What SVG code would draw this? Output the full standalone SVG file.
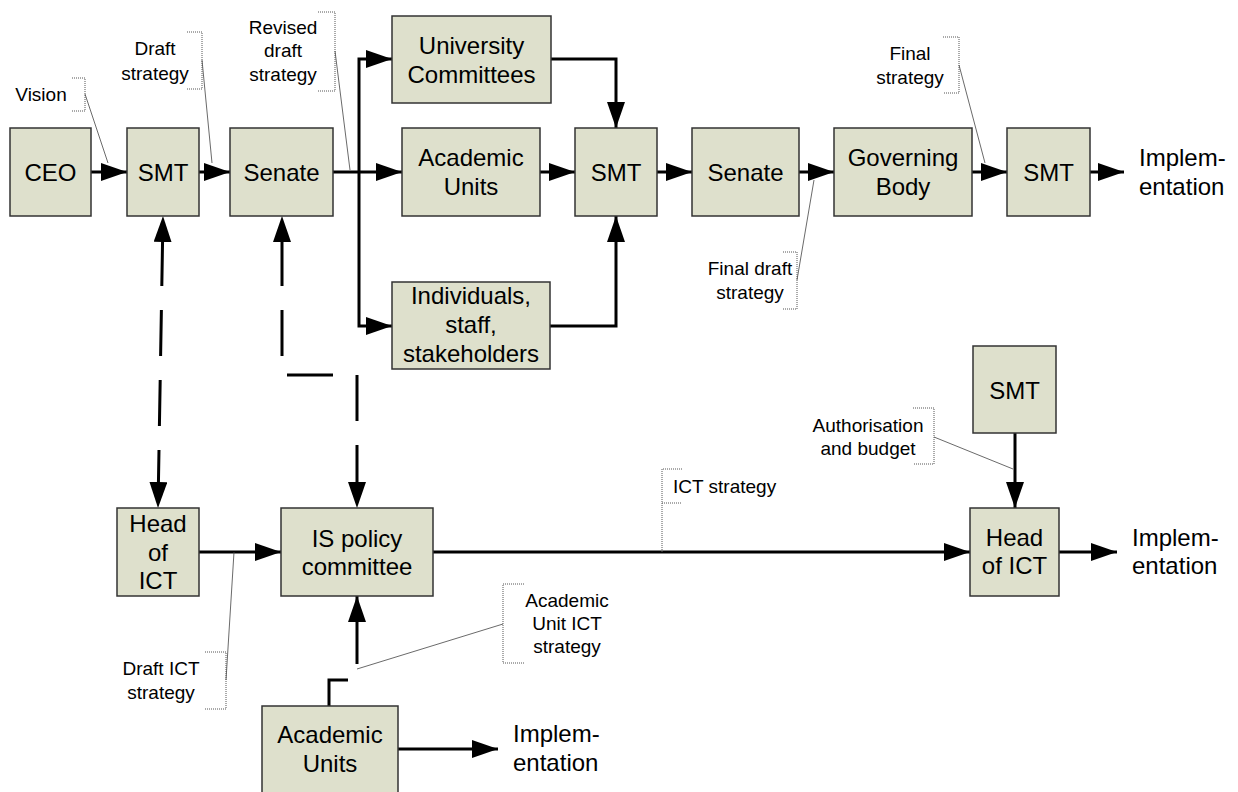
<svg xmlns="http://www.w3.org/2000/svg" width="1238" height="792" viewBox="0 0 1238 792">
<defs>
<marker id="ah" viewBox="0 0 26 18" refX="26" refY="9" markerWidth="26" markerHeight="18" markerUnits="userSpaceOnUse" orient="auto-start-reverse">
<path d="M0,0 L26,9 L0,18 Z" fill="#000"/>
</marker>
</defs>
<style>
.box{fill:#dee0cc;stroke:#333;stroke-width:1.5}
.t{font-family:"Liberation Sans",Arial,sans-serif;font-size:24px;fill:#000;text-anchor:middle}
.s{font-family:"Liberation Sans",Arial,sans-serif;font-size:19px;fill:#000;text-anchor:middle}
.c{fill:none;stroke:#000;stroke-width:3}
.d{fill:none;stroke:#000;stroke-width:3;stroke-dasharray:46 24;stroke-dashoffset:46}
.br{fill:none;stroke:#555;stroke-width:1;stroke-dasharray:1 1}
.ld{fill:none;stroke:#444;stroke-width:0.8}
</style>
<rect width="1238" height="792" fill="#fff"/>

<g id="connectors">
<path class="c" d="M91,172 H127" marker-end="url(#ah)"/>
<path class="c" d="M199,172 H230" marker-end="url(#ah)"/>
<path class="c" d="M333,172 H402" marker-end="url(#ah)"/>
<path class="c" d="M359,172 V59 H392" marker-end="url(#ah)"/>
<path class="c" d="M359,172 V326 H392" marker-end="url(#ah)"/>
<path class="c" d="M551,59 H616 V128" marker-end="url(#ah)"/>
<path class="c" d="M540,172 H575" marker-end="url(#ah)"/>
<path class="c" d="M550,326 H616 V216" marker-end="url(#ah)"/>
<path class="c" d="M657,172 H692" marker-end="url(#ah)"/>
<path class="c" d="M799,172 H834" marker-end="url(#ah)"/>
<path class="c" d="M972,172 H1007" marker-end="url(#ah)"/>
<path class="c" d="M1090,172 H1124" marker-end="url(#ah)"/>
<path class="d" d="M163,216 L158,508" marker-start="url(#ah)" marker-end="url(#ah)"/>
<path class="d" d="M282,216 V375 H357 V508" marker-start="url(#ah)" marker-end="url(#ah)"/>
<path class="c" d="M199,552 H281" marker-end="url(#ah)"/>
<path class="c" d="M433,552 H970" marker-end="url(#ah)"/>
<path class="c" d="M1015,433 V508" marker-end="url(#ah)"/>
<path class="c" d="M1059,552 H1117" marker-end="url(#ah)"/>
<path class="c" d="M398,749 H498" marker-end="url(#ah)"/>
<path class="c" d="M329,706 V680 H348"/>
<path class="c" d="M357,664 V596" marker-end="url(#ah)"/>
</g>

<g id="labels">
<g id="lbl-vision">
<text class="s" x="41" y="101">Vision</text>
<path class="br" d="M72,78 H85 V111 H72"/>
<path class="ld" d="M85,94 L108,163"/>
</g>
<g id="lbl-draft">
<text class="s" x="155" y="55">Draft</text>
<text class="s" x="155" y="80">strategy</text>
<path class="br" d="M187,32 H202 V89 H187"/>
<path class="ld" d="M202,60 L212,163"/>
</g>
<g id="lbl-revised">
<text class="s" x="283" y="34">Revised</text>
<text class="s" x="283" y="57">draft</text>
<text class="s" x="283" y="81">strategy</text>
<path class="br" d="M318,12 H335 V91 H318"/>
<path class="ld" d="M335,51 L350,170"/>
</g>
<g id="lbl-final">
<text class="s" x="910" y="60">Final</text>
<text class="s" x="910" y="84">strategy</text>
<path class="br" d="M943,37 H959 V93 H943"/>
<path class="ld" d="M959,65 L985,163"/>
</g>
<g id="lbl-finaldraft">
<text class="s" x="750" y="275">Final draft</text>
<text class="s" x="750" y="299">strategy</text>
<path class="br" d="M783,252 H797 V309 H783"/>
<path class="ld" d="M797,280 L814,180"/>
</g>
<g id="lbl-ict">
<text class="s" x="673" y="493" text-anchor="start" style="text-anchor:start">ICT strategy</text>
<path class="br" d="M682,469 H662 V503 H682"/>
<path class="br" d="M662,503 V552"/>
</g>
<g id="lbl-auth">
<text class="s" x="868" y="432">Authorisation</text>
<text class="s" x="868" y="455">and budget</text>
<path class="br" d="M913,408 H934 V464 H913"/>
<path class="ld" d="M934,437 L1013,469"/>
</g>
<g id="lbl-draftict">
<text class="s" x="161" y="675">Draft ICT</text>
<text class="s" x="161" y="699">strategy</text>
<path class="br" d="M205,652 H226 V709 H205"/>
<path class="ld" d="M226,680 L234,552"/>
</g>
<g id="lbl-auict">
<text class="s" x="567" y="607">Academic</text>
<text class="s" x="567" y="630">Unit ICT</text>
<text class="s" x="567" y="653">strategy</text>
<path class="br" d="M524,584 H503 V663 H524"/>
<path class="ld" d="M503,624 L357,669"/>
</g>
</g>

<g id="n-ceo"><rect class="box" x="10" y="128" width="81" height="88"/><text class="t" x="50.5" y="180.5">CEO</text></g>
<g id="n-smt1"><rect class="box" x="127" y="128" width="72" height="88"/><text class="t" x="163" y="180.5">SMT</text></g>
<g id="n-senate1"><rect class="box" x="230" y="128" width="103" height="88"/><text class="t" x="281.5" y="180.5">Senate</text></g>
<g id="n-unicom"><rect class="box" x="392" y="16" width="159" height="87"/><text class="t" x="471.5" y="53.5">University</text><text class="t" x="471.5" y="82.5">Committees</text></g>
<g id="n-au1"><rect class="box" x="402" y="128" width="138" height="88"/><text class="t" x="471" y="166">Academic</text><text class="t" x="471" y="195">Units</text></g>
<g id="n-indiv"><rect class="box" x="392" y="282" width="158" height="87"/><text class="t" x="471" y="303.5">Individuals,</text><text class="t" x="471" y="333">staff,</text><text class="t" x="471" y="361.5">stakeholders</text></g>
<g id="n-smt2"><rect class="box" x="575" y="128" width="82" height="88"/><text class="t" x="616" y="180.5">SMT</text></g>
<g id="n-senate2"><rect class="box" x="692" y="128" width="107" height="88"/><text class="t" x="745.5" y="180.5">Senate</text></g>
<g id="n-gb"><rect class="box" x="834" y="128" width="138" height="88"/><text class="t" x="903" y="165.5">Governing</text><text class="t" x="903" y="194.5">Body</text></g>
<g id="n-smt3"><rect class="box" x="1007" y="128" width="83" height="88"/><text class="t" x="1048.5" y="180.5">SMT</text></g>
<g id="n-impl1"><text class="t" x="1139" y="165.5" style="text-anchor:start">Implem-</text><text class="t" x="1139" y="194.5" style="text-anchor:start">entation</text></g>

<g id="n-headict1"><rect class="box" x="117" y="508" width="82" height="88"/><text class="t" x="158" y="531.5">Head</text><text class="t" x="158" y="560.5">of</text><text class="t" x="158" y="588.5">ICT</text></g>
<g id="n-ispolicy"><rect class="box" x="281" y="508" width="152" height="88"/><text class="t" x="357" y="546.5">IS policy</text><text class="t" x="357" y="574.5">committee</text></g>
<g id="n-au2"><rect class="box" x="262" y="706" width="136" height="96"/><text class="t" x="330" y="742.5">Academic</text><text class="t" x="330" y="771.5">Units</text></g>
<g id="n-impl3"><text class="t" x="513" y="741.5" style="text-anchor:start">Implem-</text><text class="t" x="513" y="770.5" style="text-anchor:start">entation</text></g>
<g id="n-smt4"><rect class="box" x="973" y="346" width="83" height="87"/><text class="t" x="1014.5" y="398.5">SMT</text></g>
<g id="n-headict2"><rect class="box" x="970" y="508" width="89" height="88"/><text class="t" x="1014.5" y="545.5">Head</text><text class="t" x="1014.5" y="573.5">of ICT</text></g>
<g id="n-impl2"><text class="t" x="1132" y="545.5" style="text-anchor:start">Implem-</text><text class="t" x="1132" y="573.5" style="text-anchor:start">entation</text></g>
</svg>
